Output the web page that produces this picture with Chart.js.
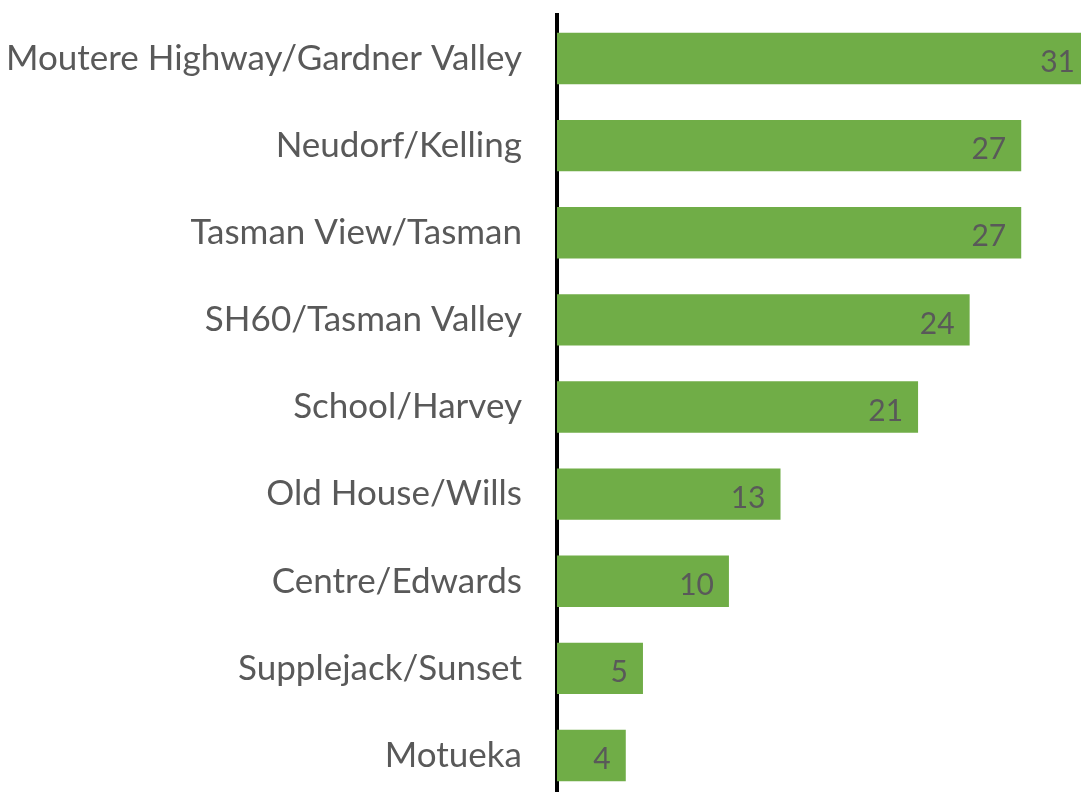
<!DOCTYPE html>
<html>
<head>
<meta charset="utf-8">
<script src="https://cdn.jsdelivr.net/npm/chart.js@4"></script>
<style>
  html, body { margin: 0; padding: 0; background: #fff; overflow: hidden; }
  #wrap { width: 1090px; height: 800px; }
</style>
</head>
<body>
<div id="wrap"><canvas id="barChart"></canvas></div>
<script>
const categories = [
    'Moutere Highway/Gardner Valley',
    'Neudorf/Kelling',
    'Tasman View/Tasman',
    'SH60/Tasman Valley',
    'School/Harvey',
    'Old House/Wills',
    'Centre/Edwards',
    'Supplejack/Sunset',
    'Motueka'
];
const counts = [31, 27, 27, 24, 21, 13, 10, 5, 4];

// values written just inside the end of each bar
const valueLabels = {
    id: 'valueLabels',
    afterDatasetsDraw(chart) {
        const ctx = chart.ctx;
        const meta = chart.getDatasetMeta(0);
        ctx.save();
        ctx.font = '30px Lato';
        ctx.fillStyle = '#595959';
        ctx.textAlign = 'right';
        ctx.textBaseline = 'middle';
        meta.data.forEach((bar, i) => {
            ctx.fillText(counts[i], bar.x - 15, bar.y + 4);
        });
        ctx.restore();
    }
};

const ctx = document.getElementById('barChart').getContext('2d');
new Chart(ctx, {
    type: 'bar',
    data: {
        labels: categories,
        datasets: [{
            data: counts,
            backgroundColor: '#70AD47',
            borderWidth: 0,
            barPercentage: 0.59,
            categoryPercentage: 1
        }]
    },
    options: {
        indexAxis: 'y',
        responsive: true,
        maintainAspectRatio: false,
        animation: false,
        layout: { padding: { top: 15, bottom: 1, left: 0, right: 0 } },
        plugins: {
            legend: { display: false },
            tooltip: { enabled: false }
        },
        scales: {
            x: {
                display: false,
                min: 0,
                max: 31
            },
            y: {
                z: 1,
                afterFit: scale => {
                    scale.width = 557;
                    scale.paddingTop = 0;
                    scale.paddingBottom = 0;
                },
                grid: { display: false, drawTicks: false },
                border: { display: true, color: '#000', width: 4 },
                ticks: {
                    padding: 35,
                    color: '#595959',
                    font: { family: 'Lato', size: 35 }
                }
            }
        }
    },
    plugins: [valueLabels]
});
</script>
</body>
</html>
